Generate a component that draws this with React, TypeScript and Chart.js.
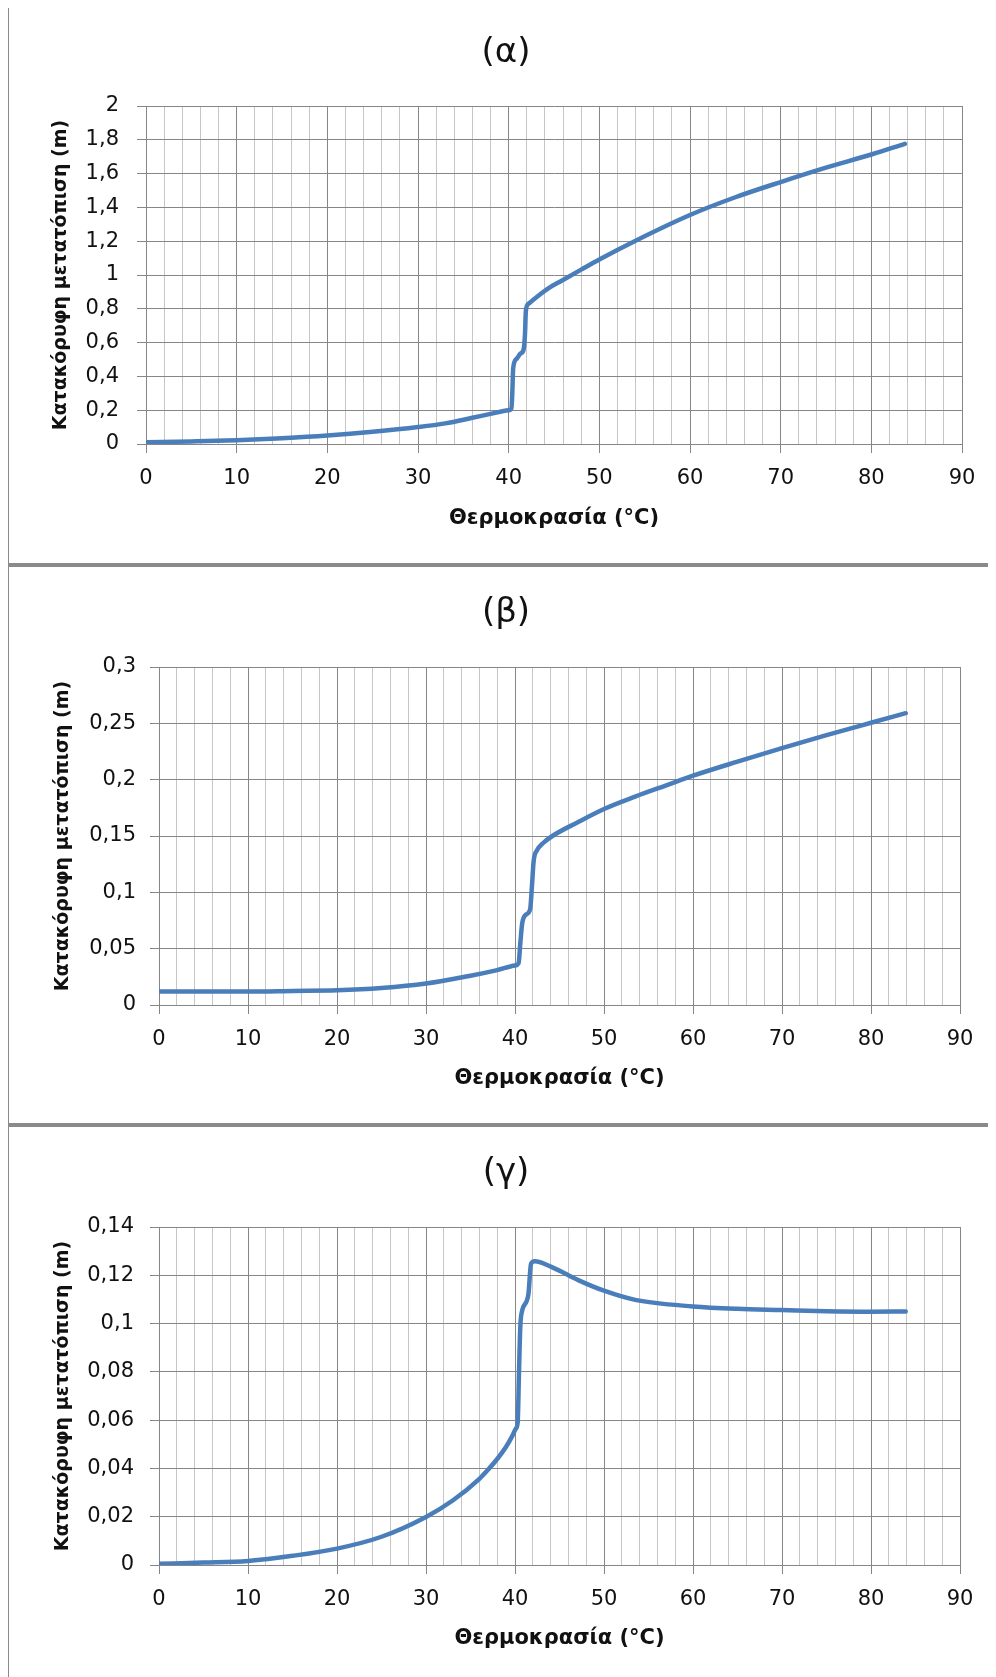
import { useEffect, useRef } from "react";
import { Chart, registerables } from "chart.js";

Chart.register(...registerables);

const FONT = "'DejaVu Sans', sans-serif";
const TEXT_COLOR = "#111111";
const MAJOR_GRID = "#868686";
const MINOR_GRID = "#c6c6c6";
const LINE_COLOR = "#4a7ebb";

// Panel (α)
const tempA = [0, 5, 10, 15, 20, 25, 30, 33, 36, 38, 40, 40.3, 40.4, 40.5, 40.9, 41.3, 41.65, 41.8, 41.9, 42.2, 43.1, 44.5, 45.7, 48, 50, 54, 60, 65, 70, 75, 80, 83.7];
const dispA = [0.01, 0.015, 0.022, 0.034, 0.05, 0.072, 0.1, 0.122, 0.155, 0.178, 0.2, 0.21, 0.3, 0.45, 0.505, 0.535, 0.56, 0.65, 0.79, 0.83, 0.87, 0.925, 0.962, 1.032, 1.092, 1.203, 1.355, 1.46, 1.55, 1.635, 1.713, 1.776];

// Panel (β)
const tempB = [0, 5, 10, 15, 20, 25, 30, 35, 38, 40, 40.4, 40.6, 40.8, 41.2, 41.7, 41.9, 42.1, 42.45, 43.2, 44.2, 47, 50, 53.5, 57, 60, 65, 70, 75, 80, 83.9];
const dispB = [0.012, 0.012, 0.012, 0.0125, 0.013, 0.015, 0.019, 0.026, 0.031, 0.035, 0.037, 0.055, 0.072, 0.08, 0.085, 0.105, 0.128, 0.137, 0.144, 0.15, 0.162, 0.174, 0.185, 0.195, 0.2035, 0.216, 0.228, 0.2395, 0.2505, 0.259];

// Panel (γ)
const tempC = [0, 5, 10, 15, 20, 25, 30, 33, 36, 37, 38, 39, 39.7, 40.1, 40.3, 40.45, 40.6, 40.8, 41.5, 41.8, 42.2, 44.2, 47.1, 50, 53.5, 60, 65, 70, 75, 80, 83.9];
const dispC = [0.0005, 0.001, 0.0017, 0.0038, 0.0068, 0.0117, 0.0199, 0.0267, 0.0357, 0.0396, 0.0439, 0.049, 0.0535, 0.0565, 0.059, 0.08, 0.099, 0.1053, 0.112, 0.1247, 0.1258, 0.1233, 0.118, 0.1136, 0.1098, 0.1071, 0.1061, 0.1056, 0.1051, 0.1049, 0.105];

const xTickLabels = ["0", "10", "20", "30", "40", "50", "60", "70", "80", "90"];
const yTicksA = ["0", "0,2", "0,4", "0,6", "0,8", "1", "1,2", "1,4", "1,6", "1,8", "2"];
const yTicksB = ["0", "0,05", "0,1", "0,15", "0,2", "0,25", "0,3"];
const yTicksC = ["0", "0,02", "0,04", "0,06", "0,08", "0,1", "0,12", "0,14"];

const titles = ["(α)", "(β)", "(γ)"];
const xAxisTitle = "Θερμοκρασία (°C)";
const yAxisTitle = "Κατακόρυφη μετατόπιση (m)";

type PanelProps = {
  title: string;
  temps: number[];
  disps: number[];
  yMax: number;
  yStep: number;
  yLabels: string[];
  padLeft: number;
  padRight: number;
  yAxisWidth: number;
  yTickPad: number;
  yTitlePad: number;
  xAxisHeight: number;
  titleBottom: number;
};

const CANVAS_W = 987;
const CANVAS_H = 556;

function isMajor(v: number) {
  return Math.abs(v - Math.round(v / 10) * 10) < 1e-6;
}

function ChartPanel(p: PanelProps) {
  const ref = useRef<HTMLCanvasElement>(null);
  useEffect(() => {
    const chart = new Chart(ref.current as HTMLCanvasElement, {
      type: "line",
      data: {
        datasets: [
          {
            data: p.temps.map((t, i) => ({ x: t, y: p.disps[i] })),
            borderColor: LINE_COLOR,
            borderWidth: 4.5,
            borderJoinStyle: "round",
            borderCapStyle: "round",
            pointRadius: 0,
            fill: false,
            cubicInterpolationMode: "monotone",
          },
        ],
      },
      options: {
        responsive: false,
        animation: false,
        events: [],
        layout: { padding: { left: p.padLeft, right: p.padRight, top: 0, bottom: 0 } },
        plugins: {
          legend: { display: false },
          tooltip: { enabled: false },
          title: {
            display: true,
            text: p.title,
            color: TEXT_COLOR,
            font: { family: FONT, size: 34, weight: "normal", lineHeight: 1.2 },
            padding: { top: 26, bottom: p.titleBottom },
          },
        },
        scales: {
          x: {
            type: "linear",
            min: 0,
            max: 90,
            ticks: {
              stepSize: 2,
              autoSkip: false,
              maxRotation: 0,
              padding: 13,
              color: TEXT_COLOR,
              font: { family: FONT, size: 21 },
              callback: (v: any) => (isMajor(Number(v)) ? xTickLabels[Math.round(Number(v) / 10)] : ""),
            },
            grid: {
              color: (ctx: any) => (ctx.tick && isMajor(ctx.tick.value) ? MAJOR_GRID : MINOR_GRID),
              tickColor: (ctx: any) => (ctx.tick && isMajor(ctx.tick.value) ? MAJOR_GRID : "rgba(0,0,0,0)"),
              tickLength: 9,
              lineWidth: 1,
            },
            border: { color: MAJOR_GRID },
            title: {
              display: true,
              text: xAxisTitle,
              color: TEXT_COLOR,
              font: { family: FONT, size: 21, weight: "bold", lineHeight: 1.2 },
              padding: { top: 0, bottom: 32 },
            },
            afterFit: (s: any) => {
              s.height = p.xAxisHeight;
            },
          },
          y: {
            type: "linear",
            min: 0,
            max: p.yMax,
            ticks: {
              stepSize: p.yStep,
              padding: p.yTickPad,
              color: TEXT_COLOR,
              font: { family: FONT, size: 21 },
              callback: (v: any, i: number) => p.yLabels[i] ?? String(v).replace(".", ","),
            },
            grid: { color: MAJOR_GRID, tickColor: MAJOR_GRID, tickLength: 9, lineWidth: 1 },
            border: { color: MAJOR_GRID },
            title: {
              display: true,
              text: yAxisTitle,
              color: TEXT_COLOR,
              font: { family: FONT, size: 19, weight: "bold", lineHeight: 1.2 },
              padding: { top: p.yTitlePad, bottom: 0 },
            },
            afterFit: (s: any) => {
              s.width = p.yAxisWidth;
            },
          },
        },
      },
    } as any);
    return () => chart.destroy();
  }, []);
  return <canvas ref={ref} width={CANVAS_W} height={CANVAS_H} style={{ display: "block" }} />;
}

const panels: PanelProps[] = [
  {
    title: titles[0], temps: tempA, disps: dispA, yMax: 2, yStep: 0.2, yLabels: yTicksA,
    padLeft: 41, padRight: 34, yAxisWidth: 96, yTickPad: 18, yTitlePad: 0, xAxisHeight: 119, titleBottom: 32.2,
  },
  {
    title: titles[1], temps: tempB, disps: dispB, yMax: 0.3, yStep: 0.05, yLabels: yTicksB,
    padLeft: 43, padRight: 36, yAxisWidth: 107, yTickPad: 14, yTitlePad: 0, xAxisHeight: 118, titleBottom: 33.2,
  },
  {
    title: titles[2], temps: tempC, disps: dispC, yMax: 0.14, yStep: 0.02, yLabels: yTicksC,
    padLeft: 43, padRight: 36, yAxisWidth: 107, yTickPad: 16, yTitlePad: 0, xAxisHeight: 118, titleBottom: 33.2,
  },
];

export default function App() {
  return (
    <div style={{ marginTop: -3, marginLeft: -1, width: 989 }}>
      {panels.map((p, i) => (
        <div
          key={i}
          style={{
            boxSizing: "border-box",
            borderLeft: "2px solid #8a8a8a",
            borderTop: "2px solid #8a8a8a",
            borderBottom: i < 2 ? "2px solid #8a8a8a" : "none",
            height: i < 2 ? 560 : 552,
            overflow: "hidden",
            background: "#fff",
          }}
        >
          <ChartPanel {...p} />
        </div>
      ))}
    </div>
  );
}
